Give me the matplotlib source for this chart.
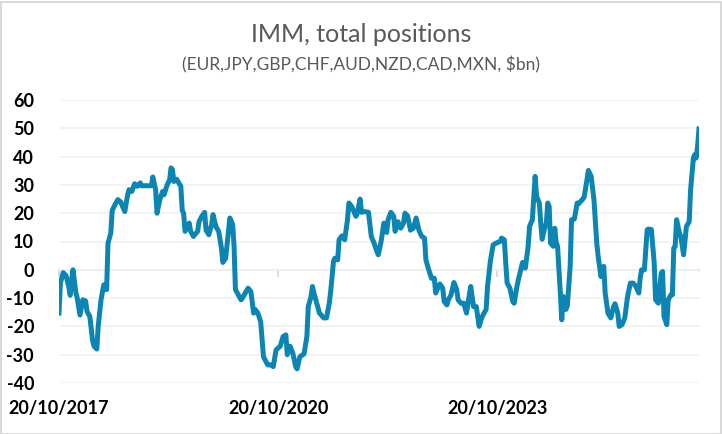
import matplotlib
matplotlib.use("Agg")
import matplotlib.pyplot as plt
import matplotlib.dates as mdates
import pandas as pd
from matplotlib.patches import Rectangle

start_date = "2017-10-20"
weeks = [0, 1, 3, 5, 7, 8, 9, 10, 12, 13, 15, 17, 19, 20, 22, 24, 25, 27, 28, 30,
         32, 34, 35, 37, 38, 40, 42, 44, 47, 49, 50, 52, 54, 56, 58, 59, 63, 66, 67, 69,
         70, 72, 74, 75, 77, 79, 80, 81, 82, 84, 87, 88, 89, 90, 93, 94, 96, 99, 100, 102,
         104, 105, 107, 109, 110, 112, 114, 116, 117, 119, 120, 122, 124, 125, 126, 128, 130, 131, 133, 135,
         137, 139, 140, 142, 144, 146, 149, 151, 153, 155, 158, 160, 162, 163, 165, 167, 169, 170, 172, 175,
         177, 178, 180, 181, 182, 184, 186, 189, 191, 193, 194, 196, 197, 199, 200, 202, 204, 206, 207, 209,
         212, 213, 215, 216, 218, 221, 223, 225, 227, 228, 230, 232, 234, 235, 237, 239, 240, 242, 244, 246,
         247, 249, 251, 253, 255, 257, 259, 261, 262, 264, 266, 268, 269, 270, 272, 274, 275, 277, 278, 280,
         282, 284, 285, 287, 289, 291, 293, 294, 296, 298, 300, 302, 305, 306, 308, 310, 312, 315, 316, 318,
         319, 320, 322, 324, 325, 327, 328, 330, 331, 333, 335, 336, 338, 340, 341, 343, 344, 345, 347, 348,
         349, 350, 351, 353, 354, 355, 356, 358, 359, 360, 362, 363, 365, 366, 368, 370, 371, 374, 375, 377,
         378, 380, 382, 384, 385, 387, 389, 390, 392, 394, 396, 397, 399, 400, 402, 404, 406, 408, 410, 412,
         414, 415, 416, 418, 420, 421, 423, 425, 426, 428, 430, 431, 432, 434, 435, 437, 438, 439, 440, 441,
         443, 444, 446, 448, 450, 451, 453, 454, 455, 456, 457]
positions = [-15.3, -4.7, -1.0, -2.0, -6.0, -9.0, -3.5, 0.0, -8.0, -10.0, -16.0, -10.6, -11.0, -14.7, -16.5, -25.0, -27.0, -28.0, -20.0, -10.6,
             -5.3, -7.0, 9.4, 13.0, 21.0, 23.0, 24.8, 24.0, 20.6, 26.5, 28.3, 27.7, 30.4, 29.5, 30.7, 29.7, 29.7, 29.7, 32.8, 28.3,
             20.0, 24.8, 27.7, 26.5, 29.7, 31.8, 36.0, 35.4, 31.2, 32.0, 29.5, 21.0, 20.0, 13.6, 16.5, 13.6, 11.8, 13.6, 17.0, 18.9,
             20.3, 14.0, 12.4, 16.0, 19.5, 15.3, 13.6, 7.7, 2.6, 4.1, 8.8, 18.3, 16.0, 8.3, -7.0, -8.8, -10.6, -10.0, -8.2, -6.5,
             -7.7, -15.3, -14.0, -15.3, -18.3, -30.7, -33.6, -33.6, -34.2, -28.3, -27.0, -23.6, -23.0, -30.0, -27.0, -29.5, -34.2, -35.0, -30.7, -29.7,
             -23.6, -13.0, -9.4, -5.9, -8.2, -11.8, -15.3, -17.0, -17.0, -11.8, -7.7, 3.0, 4.1, 3.5, 10.6, 12.0, 10.6, 17.7, 23.6, 22.4,
             18.9, 20.0, 25.0, 20.3, 20.6, 20.3, 11.8, 9.4, 6.5, 5.3, 10.0, 16.5, 13.2, 17.7, 20.3, 18.9, 13.6, 17.0, 14.7, 16.5,
             20.0, 19.0, 14.0, 14.7, 18.3, 14.0, 11.8, 11.2, 3.5, 0.0, -3.0, -3.0, -8.2, -7.0, -5.0, -6.5, -11.2, -12.4, -10.6, -8.8,
             -4.5, -7.0, -10.6, -11.8, -11.8, -15.3, -8.8, -5.9, -13.0, -13.0, -20.0, -16.7, -14.0, -5.9, 3.0, 8.8, 9.4, 10.0, 11.2, 10.6,
             2.4, -4.7, -6.5, -11.2, -11.8, -5.9, -3.5, 0.6, 2.6, 0.6, 8.3, 15.3, 17.7, 33.0, 26.0, 23.6, 16.5, 10.8, 15.3, 16.5,
             23.6, 22.4, 9.4, 8.3, 14.7, 9.7, 8.3, -8.2, -17.7, -9.4, -14.0, -12.7, 1.2, 17.7, 17.9, 23.6, 23.3, 25.0, 25.7, 31.8,
             35.1, 33.0, 24.8, 9.4, 4.7, -2.4, 1.2, -8.2, -15.3, -17.0, -13.0, -12.0, -15.3, -20.0, -19.4, -17.0, -9.4, -4.7, -4.7, -5.9,
             -8.2, -3.0, 0.0, 0.0, 14.2, 14.4, 14.2, 2.4, -10.6, -11.8, -1.2, -0.6, -16.5, -19.4, -10.6, -8.8, -8.8, 7.7, 8.3, 17.7,
             13.0, 11.8, 5.3, 15.3, 17.0, 28.3, 39.5, 40.7, 39.5, 43.6, 49.8]
tick_dates = ["2017-10-20", "2020-10-20", "2023-10-20"]
y_ticks = [-40, -30, -20, -10, 0, 10, 20, 30, 40, 50, 60]
title = "IMM, total positions"
subtitle = "(EUR,JPY,GBP,CHF,AUD,NZD,CAD,MXN, $bn)"

dates = pd.Timestamp(start_date) + pd.to_timedelta([w * 7 for w in weeks], unit="D")
ticks = pd.to_datetime(tick_dates)

plt.rcParams['font.family'] = ['Lato', 'DejaVu Sans']

fig = plt.figure(figsize=(7.22, 4.34), dpi=100)
ax = fig.add_axes([59 / 722, 51 / 434, 640 / 722, 283 / 434])

ax.plot(dates, positions, color="#0D85B3", lw=3.6, solid_joinstyle="round", zorder=3)

ax.set_ylim(-40, 60)
ax.set_xlim(dates[0], dates[-1])
ax.set_yticks(y_ticks)
ax.set_yticklabels([str(v) for v in y_ticks], fontsize=13, fontweight="bold", color="black")
ax.tick_params(axis="y", length=0, pad=18)
ax.grid(axis="y", color="#F2F2F2", lw=1.3, zorder=0)
for s in ax.spines.values():
    s.set_visible(False)

ax.set_xticks(ticks)
ax.xaxis.set_major_formatter(mdates.DateFormatter("%d/%m/%Y"))
ax.tick_params(axis="x", length=0, pad=12, labelsize=13)
for lbl in ax.get_xticklabels():
    lbl.set_fontweight("bold")

sec = ax.secondary_xaxis(0.4)
sec.set_xticks(ticks)
sec.set_xticklabels([])
sec.tick_params(axis="x", direction="out", length=5, color="#D9D9D9", width=1.3)
sec.spines["bottom"].set_color("#D9D9D9")
sec.spines["bottom"].set_linewidth(1.5)
for k in ("top", "left", "right"):
    if k in sec.spines:
        sec.spines[k].set_visible(False)

fig.text(0.5, 1 - 34 / 434, title, ha="center", va="center", fontsize=18, color="#595959")
fig.text(0.5, 1 - 65 / 434, subtitle, ha="center", va="center", fontsize=12.5, color="#595959")

fig.patches.append(Rectangle((0.5 / 722, 0.5 / 434), 720 / 722, 432 / 434, transform=fig.transFigure,
                             fill=False, edgecolor="#D9D9D9", lw=1.5))

fig.savefig("out.png", dpi=100)
